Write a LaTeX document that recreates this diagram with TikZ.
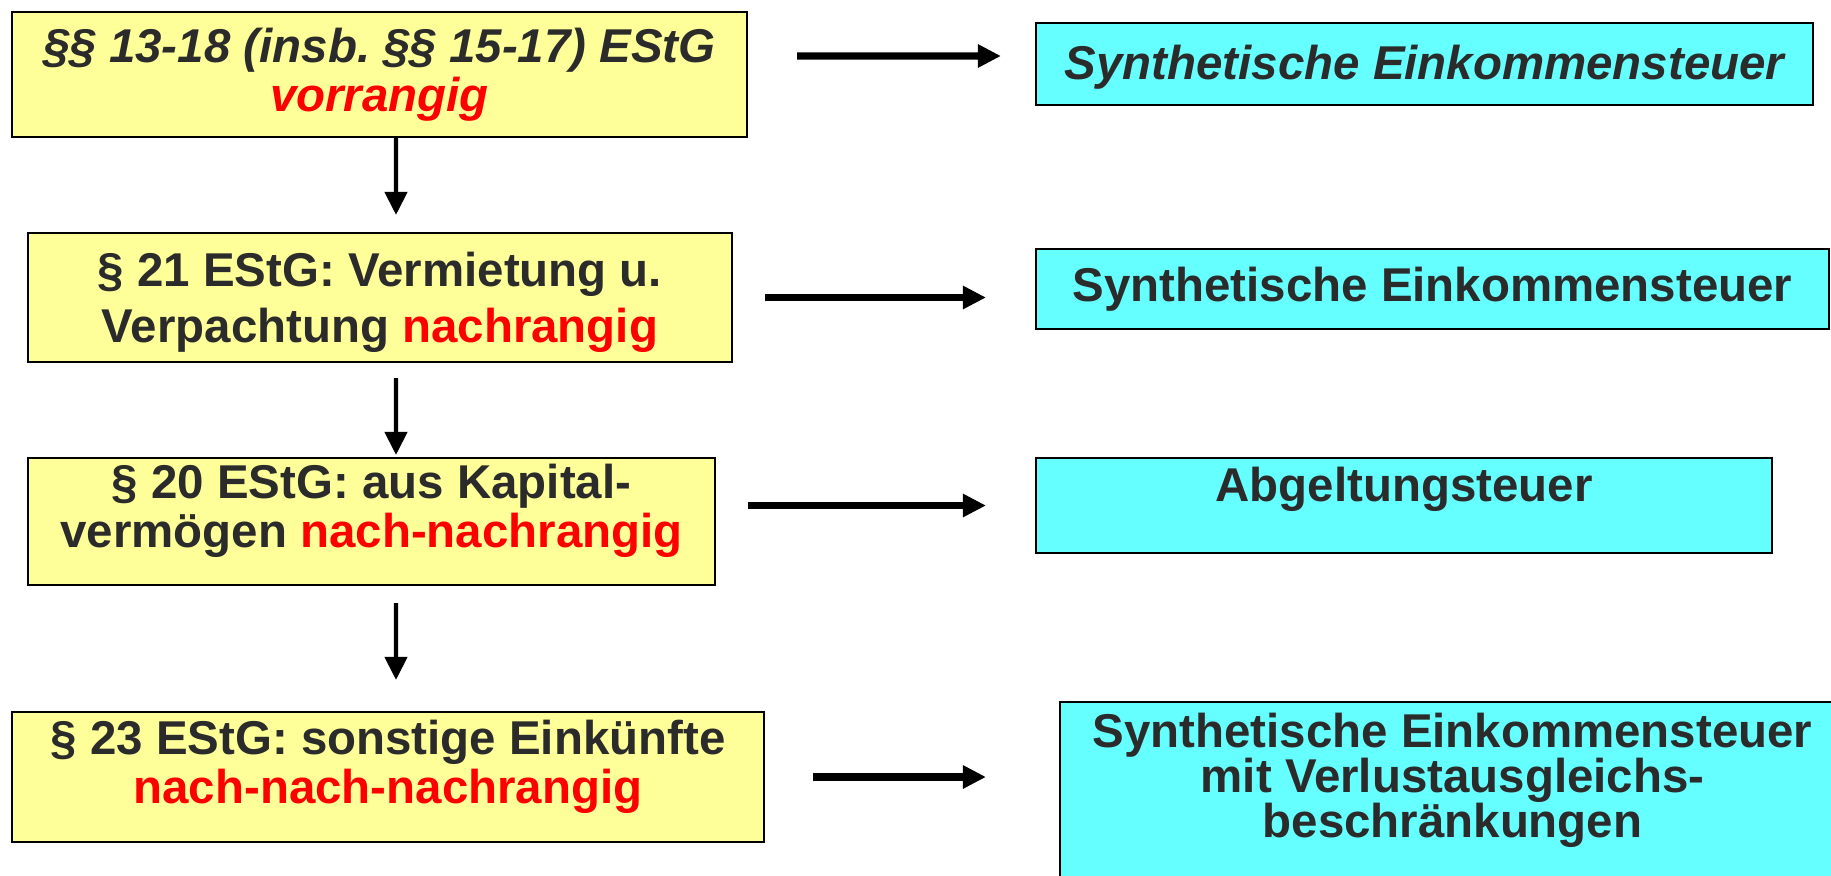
\documentclass[tikz,border=0pt]{standalone}
\usepackage{fontspec}
\setmainfont{Liberation Sans}
\usepackage{tikz}
\usetikzlibrary{positioning, arrows.meta, calc}
\definecolor{lawfill}{RGB}{255,255,153}
\definecolor{taxfill}{RGB}{102,255,255}
\definecolor{textgray}{RGB}{43,43,43}
\definecolor{rankred}{RGB}{255,0,0}
\frenchspacing

\begin{document}
\begin{tikzpicture}[
    lawbox/.style={rectangle, fill=lawfill, draw=black, line width=1.2pt, inner sep=0pt, align=center, text=textgray, font=\fontsize{27}{28}\selectfont\bfseries},
    taxbox/.style={rectangle, fill=taxfill, draw=black, line width=1.2pt, inner sep=0pt, align=center, text=textgray, font=\fontsize{27}{28}\selectfont\bfseries},
    harrow/.style={-{Triangle[length=0.46cm, width=0.44cm]}, line width=4pt},
    varrow/.style={-{Triangle[length=0.46cm, width=0.44cm]}, line width=2.5pt}
]
    \useasboundingbox (0, 0) rectangle (36.62, -17.52);

    % === ZEILE 1 : §§ 13-18 ===
    \node[lawbox, minimum width=14.7cm, minimum height=2.5cm] (law1) at (7.59, -1.49) {
        \itshape §§ 13-18 (insb. §§ 15-17) EStG\\
        \itshape\textcolor{rankred}{vorrangig}
    };
    \node[taxbox, minimum width=15.54cm, minimum height=1.64cm, text depth=0.05cm, font=\fontsize{27}{28}\selectfont\bfseries\itshape] (tax1) at (28.49, -1.28) {Synthetische Einkommensteuer};

    % === ZEILE 2 : § 21 ===
    \node[lawbox, minimum width=14.08cm, minimum height=2.58cm, text depth=0pt] (law2) at (7.6, -5.95) {
        § 21 EStG: Vermietung u.\\[4pt]
        Verpachtung \textcolor{rankred}{nachrangig}
    };
    \node[taxbox, minimum width=15.86cm, minimum height=1.6cm] (tax2) at (28.65, -5.78) {Synthetische Einkommensteuer};

    % === ZEILE 3 : § 20 ===
    \node[lawbox, minimum width=13.74cm, minimum height=2.54cm, text depth=0.62cm] (law3) at (7.43, -10.43) {
        § 20 EStG: aus Kapital-\\
        vermögen \textcolor{rankred}{nach-nachrangig}
    };
    \node[taxbox, minimum width=14.72cm, minimum height=1.9cm, text depth=0.84cm] (tax3) at (28.08, -10.11) {Abgeltungsteuer};

    % === ZEILE 4 : § 23 ===
    \node[lawbox, minimum width=15.04cm, minimum height=2.6cm, text depth=0.62cm] (law4) at (7.76, -15.54) {
        § 23 EStG: sonstige Einkünfte\\
        \textcolor{rankred}{nach-nach-nachrangig}
    };
    \node[taxbox, minimum width=15.7cm, minimum height=3.76cm, text depth=0.82cm, font=\fontsize{27}{25.5}\selectfont\bfseries] (tax4) at (29.05, -15.92) {
        Synthetische Einkommensteuer\\
        mit Verlustausgleichs-\\
        beschränkungen
    };

    % === PFEILE NACH RECHTS ===
    \draw[harrow, shorten <=0.98cm, shorten >=0.68cm] ([yshift=0.37cm]law1.east) -- ([yshift=0.16cm]tax1.west);
    \draw[harrow, shorten <=0.64cm, shorten >=0.98cm] (law2.east) -- (law2.east -| tax2.west);
    \draw[harrow, shorten <=0.64cm, shorten >=0.98cm] (law3.east |- tax3.west) -- (tax3.west);
    \draw[harrow, shorten <=0.96cm, shorten >=1.46cm] (law4.east) -- (law4.east -| tax4.west);

    % === PFEILE NACH UNTEN ===
    \draw[varrow, shorten >=0.34cm] ([xshift=0.33cm]law1.south) -- ([xshift=0.32cm]law2.north);
    \draw[varrow, shorten <=0.3cm, shorten >=0.04cm] ([xshift=0.32cm]law2.south) -- ([xshift=0.49cm]law3.north);
    \draw[varrow, shorten <=0.34cm, shorten >=0.62cm] ([xshift=0.49cm]law3.south) -- ([xshift=0.16cm]law4.north);

\end{tikzpicture}
\end{document}
